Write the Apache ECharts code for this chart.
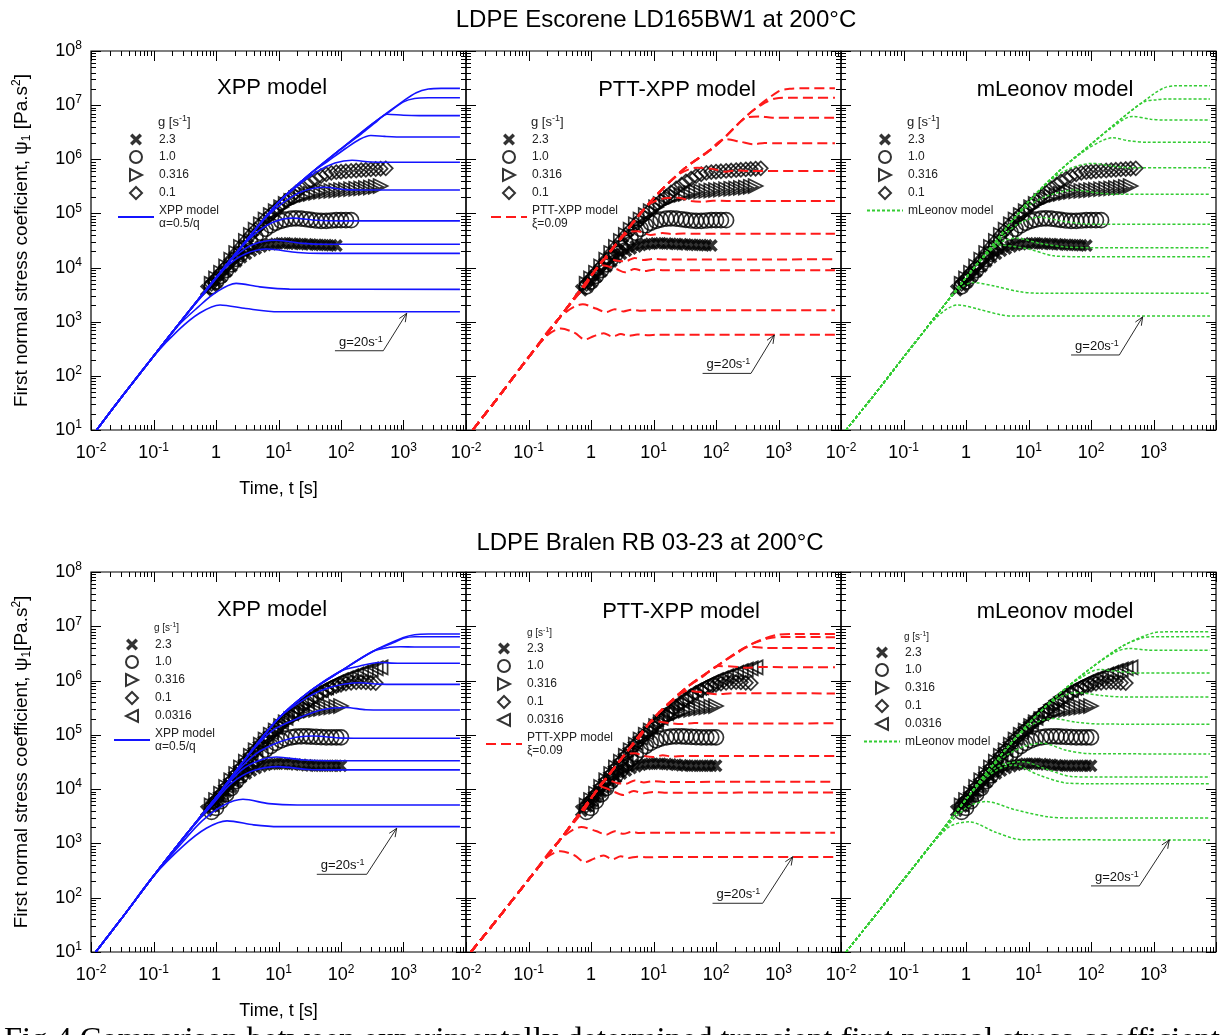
<!DOCTYPE html>
<html>
<head>
<meta charset="utf-8">
<script src="https://cdn.jsdelivr.net/npm/echarts@6/dist/echarts.min.js"></script>
<style>
html, body { margin: 0; padding: 0; background: #fff; }
#main { width: 1223px; height: 1035px; }
</style>
</head>
<body>
<div id="main"></div>
<script>
// sampling times of the measured data (s)
var TIMES = [0.7, 0.85, 1.0, 1.2, 1.45, 1.75, 2.1, 2.5, 3, 3.6, 4.3, 5.2, 6.2, 7.5, 9, 11, 13, 16, 19, 23, 28, 33, 40, 48, 58, 70, 84, 100, 120, 145, 175, 210, 250, 300, 360, 430, 520];

// measured psi1 (Pa.s2), aligned with TIMES, null = no point
// LD165BW1
var TOP_G2_3 = [3.8e3, 4.6e3, 5.5e3, 6.8e3, 8.5e3, 1.05e4, 1.3e4, 1.55e4, 1.8e4, 2.05e4, 2.25e4, 2.45e4, 2.6e4, 2.7e4, 2.75e4, 2.8e4, 2.8e4, 2.78e4, 2.75e4, 2.72e4, 2.7e4, 2.68e4, 2.65e4, 2.62e4, 2.6e4, 2.58e4, 2.55e4];
var TOP_G1_0 = [null, 4.5e3, 5.5e3, 7e3, 9e3, 1.15e4, 1.45e4, 1.8e4, 2.3e4, 2.9e4, 3.6e4, 4.4e4, 5.2e4, 6e4, 6.7e4, 7.3e4, 7.7e4, 8e4, 8.1e4, 8e4, 7.8e4, 7.6e4, 7.4e4, 7.3e4, 7.3e4, 7.4e4, 7.5e4, 7.5e4, 7.5e4, 7.5e4];
var TOP_G0_316 = [null, 5e3, 6.3e3, 8e3, 1.05e4, 1.4e4, 1.85e4, 2.4e4, 3.1e4, 4e4, 5e4, 6.3e4, 7.7e4, 9.3e4, 1.1e5, 1.3e5, 1.5e5, 1.7e5, 1.9e5, 2.05e5, 2.2e5, 2.3e5, 2.4e5, 2.5e5, 2.55e5, 2.6e5, 2.65e5, 2.7e5, 2.75e5, 2.8e5, 2.85e5, 2.9e5, 2.95e5, 3e5, 3.1e5, 3.2e5];
var TOP_G0_1 = [null, 5e3, 6.3e3, 8e3, 1.05e4, 1.4e4, 1.85e4, 2.4e4, 3.1e4, 4e4, 5e4, 6.3e4, 7.8e4, 9.6e4, 1.17e5, 1.42e5, 1.7e5, 2.05e5, 2.45e5, 2.9e5, 3.4e5, 3.9e5, 4.4e5, 4.9e5, 5.3e5, 5.6e5, 5.8e5, 5.9e5, 6e5, 6.1e5, 6.2e5, 6.3e5, 6.4e5, 6.5e5, 6.6e5, 6.7e5, 6.8e5];
// RB 03-23
var BOT_G2_3 = [4e3, 4.8e3, 5.8e3, 7.2e3, 9e3, 1.1e4, 1.35e4, 1.65e4, 1.95e4, 2.2e4, 2.45e4, 2.65e4, 2.8e4, 2.9e4, 2.95e4, 2.95e4, 2.95e4, 2.9e4, 2.85e4, 2.8e4, 2.75e4, 2.72e4, 2.7e4, 2.7e4, 2.7e4, 2.7e4, 2.7e4, 2.7e4];
var BOT_G1_0 = [null, 3.8e3, 4.5e3, 6e3, 8e3, 1.05e4, 1.4e4, 1.8e4, 2.3e4, 2.9e4, 3.6e4, 4.4e4, 5.3e4, 6.2e4, 7.1e4, 7.9e4, 8.5e4, 9e4, 9.3e4, 9.4e4, 9.4e4, 9.3e4, 9.2e4, 9.1e4, 9e4, 9e4, 9e4, 9e4];
var BOT_G0_316 = [null, 5e3, 6.3e3, 8.2e3, 1.1e4, 1.45e4, 1.9e4, 2.5e4, 3.2e4, 4.1e4, 5.2e4, 6.6e4, 8.2e4, 1e5, 1.2e5, 1.45e5, 1.7e5, 1.95e5, 2.2e5, 2.45e5, 2.65e5, 2.8e5, 2.9e5, 3e5, 3.1e5, 3.2e5, 3.3e5, 3.4e5];
var BOT_G0_1 = [null, 5e3, 6.3e3, 8.2e3, 1.1e4, 1.45e4, 1.9e4, 2.5e4, 3.2e4, 4.1e4, 5.2e4, 6.6e4, 8.3e4, 1.03e5, 1.26e5, 1.55e5, 1.9e5, 2.3e5, 2.75e5, 3.3e5, 3.9e5, 4.5e5, 5.2e5, 5.9e5, 6.6e5, 7.3e5, 7.9e5, 8.4e5, 8.8e5, 9.1e5, 9.3e5, 9.4e5, 9.3e5, 9.1e5, 9e5];
var BOT_G0_0316 = [null, 5.2e3, 6.6e3, 8.6e3, 1.15e4, 1.5e4, 2e4, 2.6e4, 3.4e4, 4.4e4, 5.6e4, 7.2e4, 9e4, 1.12e5, 1.38e5, 1.7e5, 2.05e5, 2.5e5, 3e5, 3.6e5, 4.3e5, 5e5, 5.8e5, 6.6e5, 7.5e5, 8.4e5, 9.3e5, 1.02e6, 1.1e6, 1.2e6, 1.3e6, 1.4e6, 1.5e6, 1.6e6, 1.68e6, 1.75e6];

// model start-up envelopes [t, psi1]
var ENV_XPP_TOP = [[0.0123, 10], [0.0316, 42], [0.1, 230], [0.316, 1.25e3], [1, 6.5e3], [3.16, 3.3e4], [10, 1.6e5], [31.6, 5.3e5], [100, 1.55e6], [316, 4.5e6], [1000, 1.2e7]];
var ENV_PTT_TOP = [[0.0128, 10], [0.0316, 38], [0.1, 220], [0.316, 1.2e3], [1, 7e3], [3.16, 3.8e4], [10, 1.9e5], [31.6, 6.8e5], [100, 1.8e6], [316, 6.5e6], [1000, 1.8e7]];
var ENV_ML_TOP = [[0.012, 10], [0.0316, 40], [0.1, 220], [0.316, 1.2e3], [1, 6.5e3], [3.16, 3.3e4], [10, 1.65e5], [31.6, 6.2e5], [100, 1.9e6], [316, 5.8e6], [1000, 1.6e7]];
var ENV_XPP_BOT = [[0.0119, 10], [0.0316, 43], [0.1, 250], [0.316, 1.35e3], [1, 7e3], [3.16, 4e4], [10, 2e5], [31.6, 6.3e5], [100, 1.5e6], [316, 3.4e6], [1000, 6.2e6]];
var ENV_PTT_BOT = [[0.012, 10], [0.0316, 40], [0.1, 215], [0.316, 1.15e3], [1, 6.8e3], [3.16, 3.8e4], [10, 2e5], [31.6, 7e5], [100, 1.8e6], [316, 4.3e6], [1000, 7e6]];
var ENV_ML_BOT = [[0.012, 10], [0.0316, 40], [0.1, 215], [0.316, 1.15e3], [1, 6.5e3], [3.16, 3.5e4], [10, 1.6e5], [31.6, 5.8e5], [100, 1.7e6], [316, 4.3e6], [1000, 7.6e6]];

// model curves: [time where the curve leaves the envelope, points after it]
var XPP_TOP = [
  [1000, [[1600, 1.7e7], [2500, 1.98e7], [4000, 2.04e7], [8000, 2.04e7]]],
  [316, [[600, 7.6e6], [1000, 1.15e7], [1500, 1.33e7], [2500, 1.37e7], [8000, 1.37e7]]],
  [100, [[200, 2.8e6], [350, 4.7e6], [550, 6.8e6], [1000, 6.5e6], [1800, 6.4e6], [8000, 6.4e6]]],
  [31.6, [[60, 9e5], [120, 1.6e6], [200, 2.35e6], [300, 2.75e6], [500, 2.65e6], [1000, 2.58e6], [8000, 2.58e6]]],
  [10, [[20, 3.2e5], [40, 5.8e5], [80, 8.5e5], [150, 9.6e5], [300, 8.9e5], [600, 8.8e5], [8000, 8.8e5]]],
  [3.16, [[6, 8e4], [12, 1.6e5], [25, 2.6e5], [55, 3.05e5], [120, 2.75e5], [300, 2.7e5], [8000, 2.7e5]]],
  [1, [[2, 1.7e4], [4, 4e4], [8, 6.8e4], [17, 8.2e4], [40, 7.5e4], [100, 7.3e4], [8000, 7.3e4]]],
  [1, [[2, 1.6e4], [4, 2.7e4], [9, 3.2e4], [25, 2.8e4], [60, 2.7e4], [8000, 2.7e4]]],
  [0.316, [[0.6, 3e3], [1.5, 1.05e4], [3, 1.8e4], [6.5, 2.2e4], [20, 1.9e4], [50, 1.83e4], [8000, 1.83e4]]],
  [0.1, [[0.25, 850], [0.5, 1.8e3], [1, 3.5e3], [2.1, 5.1e3], [5, 4.4e3], [15, 4e3], [8000, 3.96e3]]],
  [0.1, [[0.25, 700], [0.55, 1.45e3], [1.16, 2.04e3], [3, 1.75e3], [10, 1.53e3], [8000, 1.53e3]]]
];
var PTT_TOP = [
  [1000, [[1500, 2.0e7], [2500, 2.05e7], [8000, 2.05e7]]],
  [316, [[600, 1.1e7], [900, 1.33e7], [1500, 1.37e7], [8000, 1.37e7]]],
  [100, [[200, 3.9e6], [300, 5.8e6], [500, 6.2e6], [800, 5.85e6], [8000, 5.86e6]]],
  [31.6, [[70, 1.3e6], [140, 2.35e6], [250, 2.1e6], [400, 1.9e6], [600, 2e6], [1000, 1.97e6], [8000, 1.97e6]]],
  [10, [[25, 5.2e5], [50, 7e5], [90, 6.6e5], [140, 5.9e5], [220, 6.2e5], [350, 6.05e5], [8000, 6.08e5]]],
  [3.16, [[8, 1.4e5], [15, 1.9e5], [25, 1.95e5], [40, 1.7e5], [60, 1.65e5], [90, 1.72e5], [150, 1.7e5], [8000, 1.7e5]]],
  [1, [[2, 1.9e4], [4, 4.5e4], [5.5, 4.7e4], [9, 4e4], [14, 4.35e4], [20, 4.15e4], [30, 4.25e4], [50, 4.22e4], [8000, 4.22e4]]],
  [1, [[1.8, 1.5e4], [2.5, 1.35e4], [3.5, 1.3e4], [5, 1.5e4], [7, 1.38e4], [10, 1.44e4], [15, 1.41e4], [8000, 1.42e4]]],
  [0.316, [[0.8, 4.5e3], [1.5, 1.1e4], [2.5, 9.5e3], [3.5, 8.2e3], [5, 9.4e3], [7, 8.6e3], [10, 9.1e3], [15, 8.9e3], [8000, 8.9e3]]],
  [0.316, [[0.74, 2.1e3], [1.2, 1.75e3], [1.75, 1.5e3], [2.4, 1.7e3], [3.3, 1.55e3], [4.5, 1.67e3], [6, 1.6e3], [9, 1.63e3], [8000, 1.63e3]]],
  [0.1, [[0.2, 560], [0.33, 750], [0.55, 620], [0.8, 470], [1.1, 540], [1.6, 610], [2.2, 530], [3, 590], [4, 550], [5.5, 580], [8, 565], [12, 575], [8000, 575]]]
];
var ML_TOP = [
  [1000, [[1500, 2.1e7], [2200, 2.28e7], [4000, 2.29e7], [8000, 2.29e7]]],
  [316, [[700, 1.15e7], [1100, 1.25e7], [1600, 1.3e7], [8000, 1.3e7]]],
  [100, [[200, 3.6e6], [464, 6.2e6], [900, 5.5e6], [1500, 5.3e6], [8000, 5.3e6]]],
  [31.6, [[80, 1.45e6], [150, 2.2e6], [222, 2.5e6], [400, 2.2e6], [800, 2.06e6], [8000, 2.06e6]]],
  [10, [[25, 4.5e5], [50, 7e5], [106, 8.4e5], [200, 7.6e5], [400, 7e5], [8000, 7e5]]],
  [3.16, [[8, 1.15e5], [20, 2.1e5], [57, 2.7e5], [120, 2.4e5], [250, 2.25e5], [8000, 2.25e5]]],
  [1, [[3, 2.8e4], [7, 6.5e4], [15, 8.5e4], [35, 7.2e4], [80, 6.4e4], [200, 6.3e4], [8000, 6.3e4]]],
  [1, [[3, 2.6e4], [6.3, 3.5e4], [15, 2.8e4], [40, 2.4e4], [100, 2.33e4], [8000, 2.33e4]]],
  [1, [[2, 1.6e4], [3.5, 2.6e4], [10, 2.2e4], [25, 1.65e4], [60, 1.59e4], [8000, 1.59e4]]],
  [0.316, [[0.7, 3.6e3], [1.28, 5.3e3], [3, 4.5e3], [7, 3.6e3], [15, 3.35e3], [8000, 3.35e3]]],
  [0.1, [[0.35, 1.25e3], [0.74, 2.04e3], [1.6, 1.7e3], [3.5, 1.35e3], [6, 1.27e3], [8000, 1.27e3]]]
];
var XPP_BOT = [
  [1000, [[1500, 7e6], [2500, 7.2e6], [8000, 7.2e6]]],
  [316, [[700, 5.0e6], [1000, 6.0e6], [1500, 6.4e6], [8000, 6.4e6]]],
  [316, [[600, 4.1e6], [900, 4.2e6], [1500, 4.16e6], [8000, 4.16e6]]],
  [100, [[200, 1.85e6], [400, 2.15e6], [800, 2.08e6], [8000, 2.08e6]]],
  [10, [[30, 5e5], [70, 7.6e5], [200, 9.1e5], [400, 8.6e5], [800, 8.5e5], [8000, 8.5e5]]],
  [3.16, [[8, 1.2e5], [20, 2e5], [50, 2.9e5], [120, 3.2e5], [250, 2.9e5], [500, 2.87e5], [8000, 2.87e5]]],
  [1, [[2.5, 2.5e4], [5, 5e4], [15, 8.5e4], [36, 9.5e4], [90, 8.8e4], [200, 8.65e4], [8000, 8.65e4]]],
  [1, [[2.5, 2.2e4], [5, 3.4e4], [9.3, 3.9e4], [25, 3.45e4], [60, 3.34e4], [8000, 3.34e4]]],
  [0.316, [[0.8, 4.6e3], [1.8, 1.3e4], [4, 2.2e4], [10, 2.6e4], [30, 2.3e4], [80, 2.26e4], [8000, 2.26e4]]],
  [0.1, [[0.3, 1.1e3], [0.6, 2.6e3], [1.3, 5e3], [2.7, 6.5e3], [7, 5.4e3], [20, 5.1e3], [8000, 5.1e3]]],
  [0.1, [[0.3, 900], [0.7, 1.9e3], [1.5, 2.6e3], [4, 2.2e3], [10, 2.04e3], [8000, 2.04e3]]]
];
var PTT_BOT = [
  [1000, [[1800, 7.2e6], [8000, 7.2e6]]],
  [316, [[700, 6.0e6], [1200, 6.35e6], [8000, 6.3e6]]],
  [100, [[200, 3.0e6], [350, 4.2e6], [600, 4.0e6], [1000, 4.0e6], [8000, 4.0e6]]],
  [31.6, [[60, 1.15e6], [110, 1.85e6], [200, 1.8e6], [300, 1.72e6], [500, 1.77e6], [8000, 1.76e6]]],
  [10, [[20, 4.2e5], [35, 6.5e5], [70, 5.9e5], [110, 5.6e5], [180, 5.85e5], [8000, 5.8e5]]],
  [3.16, [[6, 9e4], [10, 1.8e5], [18, 1.65e5], [28, 1.58e5], [45, 1.66e5], [70, 1.62e5], [8000, 1.63e5]]],
  [1, [[2, 1.9e4], [3.5, 4.2e4], [5, 4.6e4], [7, 4.1e4], [10, 3.9e4], [14, 4.2e4], [20, 4e4], [30, 4.1e4], [8000, 4.08e4]]],
  [1, [[1.8, 1.5e4], [2.6, 1.3e4], [3.6, 1.25e4], [5, 1.45e4], [7, 1.33e4], [10, 1.4e4], [15, 1.36e4], [8000, 1.37e4]]],
  [0.316, [[0.8, 4.3e3], [1.5, 1.1e4], [2.3, 9e3], [3.3, 7.8e3], [4.8, 9.2e3], [7, 8.4e3], [10, 8.9e3], [15, 8.6e3], [8000, 8.7e3]]],
  [0.316, [[0.7, 2e3], [1.2, 1.7e3], [1.75, 1.45e3], [2.4, 1.68e3], [3.3, 1.5e3], [4.5, 1.63e3], [6, 1.56e3], [9, 1.58e3], [8000, 1.58e3]]],
  [0.1, [[0.2, 560], [0.33, 720], [0.55, 600], [0.8, 450], [1.1, 520], [1.6, 600], [2.2, 510], [3, 580], [4, 540], [5.5, 570], [8, 555], [12, 562], [8000, 562]]]
];
var ML_BOT = [
  [1000, [[1500, 7.9e6], [2000, 7.94e6], [8000, 7.94e6]]],
  [316, [[700, 6.2e6], [1000, 6.4e6], [1500, 6.43e6], [8000, 6.43e6]]],
  [100, [[250, 3.4e6], [410, 3.9e6], [800, 3.65e6], [1500, 3.61e6], [8000, 3.61e6]]],
  [31.6, [[70, 1.15e6], [136, 1.6e6], [300, 1.45e6], [600, 1.38e6], [8000, 1.38e6]]],
  [10, [[25, 4.2e5], [57, 6e5], [150, 5.3e5], [300, 5e5], [8000, 5e5]]],
  [3.16, [[10, 1.4e5], [24, 2e5], [60, 1.7e5], [150, 1.58e5], [8000, 1.57e5]]],
  [1, [[3, 3e4], [8, 6e4], [17, 7e4], [40, 5.2e4], [100, 4.5e4], [8000, 4.45e4]]],
  [1, [[3, 2.5e4], [8, 3.2e4], [20, 2.3e4], [50, 1.7e4], [120, 1.67e4], [8000, 1.67e4]]],
  [1, [[2.5, 1.9e4], [5.6, 2.8e4], [15, 1.8e4], [40, 1.3e4], [100, 1.26e4], [8000, 1.26e4]]],
  [0.316, [[1, 4.5e3], [2.1, 5.9e3], [6, 4.2e3], [20, 3.1e3], [45, 2.95e3], [8000, 2.95e3]]],
  [0.1, [[0.5, 1.9e3], [1.13, 2.5e3], [3, 1.6e3], [8, 1.17e3], [8000, 1.16e3]]]
];

// "g=20s-1" arrows: underline start, elbow, arrow tip [t, psi1] per panel
var ARROW_START = [[80, 291], [61, 111], [48, 243], [41, 270], [88, 79], [100, 165]];
var ARROW_ELBOW = [[475, 291], [363, 111], [284, 243], [258, 270], [558, 79], [593, 165]];
var ARROW_TIP = [[1125, 1430], [857, 568], [671, 1230], [778, 1900], [1690, 570], [1790, 1160]];

var FONT = 'Liberation Sans, Arial, sans-serif';
var CROSS = 'path://M0,2L2,0L5,3L8,0L10,2L7,5L10,8L8,10L5,7L2,10L0,8L3,5Z';
var TRI_R = 'path://M0,0L10,5L0,10Z';
var TRI_L = 'path://M10,0L0,5L10,10Z';
var DIAMOND = 'path://M5,0L10,5L5,10L0,5Z';
var HOLLOW = {color: 'rgba(255,255,255,0)', borderColor: '#000', borderWidth: 1.7};
var SYMBOLS = {
  '2.3': {symbol: CROSS, size: 13, style: {color: '#000'}},
  '1.0': {symbol: 'circle', size: 15, style: HOLLOW},
  '0.316': {symbol: TRI_R, size: 14, style: HOLLOW},
  '0.1': {symbol: DIAMOND, size: 14, style: HOLLOW},
  '0.0316': {symbol: TRI_L, size: 14, style: HOLLOW}
};
var TOP_DATA = [['2.3', TOP_G2_3], ['1.0', TOP_G1_0], ['0.316', TOP_G0_316], ['0.1', TOP_G0_1]];
var BOT_DATA = [['2.3', BOT_G2_3], ['1.0', BOT_G1_0], ['0.316', BOT_G0_316], ['0.1', BOT_G0_1], ['0.0316', BOT_G0_0316]];

var XPP = {name: 'XPP model\nα=0.5/q', line: {color: '#1414ff', width: 1.6, type: 'solid'}};
var PTT = {name: 'PTT-XPP model\nξ=0.09', line: {color: '#ff1a1a', width: 2, type: [10, 5]}};
var ML = {name: 'mLeonov model', line: {color: '#33cc33', width: 1.5, type: [3, 2]}};

var PANELS = [
  {model: XPP, env: ENV_XPP_TOP, curves: XPP_TOP, data: TOP_DATA},
  {model: PTT, env: ENV_PTT_TOP, curves: PTT_TOP, data: TOP_DATA},
  {model: ML, env: ENV_ML_TOP, curves: ML_TOP, data: TOP_DATA},
  {model: XPP, env: ENV_XPP_BOT, curves: XPP_BOT, data: BOT_DATA},
  {model: PTT, env: ENV_PTT_BOT, curves: PTT_BOT, data: BOT_DATA},
  {model: ML, env: ENV_ML_BOT, curves: ML_BOT, data: BOT_DATA}
];

var GRID_LEFT = [91, 466, 841];
var GRID_TOP = [51, 572];
var GRID_H = [379, 380];
var LEGEND_POS = [[117, 133], [490, 133], [866, 133], [113, 638], [485, 642], [863, 646]];

function pairs(vals) {
  var out = [];
  for (var i = 0; i < vals.length; i++) {
    if (vals[i] != null) out.push([TIMES[i], vals[i]]);
  }
  return out;
}
function curve(env, c) {
  return env.filter(function (p) { return p[0] <= c[0]; }).concat(c[1]);
}

// tick marks (major + log minor) drawn on all four sides
var tickData = [];
for (var e = -2; e <= 4; e++) {
  tickData.push([Math.pow(10, e), 10, 0, 10]);
  if (e < 4) for (var k = 2; k <= 9; k++) tickData.push([k * Math.pow(10, e), 10, 0, 5]);
}
for (var e2 = 1; e2 <= 8; e2++) {
  tickData.push([0.01, Math.pow(10, e2), 1, 10]);
  if (e2 < 8) for (var k2 = 2; k2 <= 9; k2++) tickData.push([0.01, k2 * Math.pow(10, e2), 1, 5]);
}
function renderTick(params, api) {
  var cs = params.coordSys;
  var p = api.coord([api.value(0), api.value(1)]);
  var len = api.value(3);
  if (api.value(2) === 0) {
    var x = Math.round(p[0]) + 0.5;
    return {type: 'group', children: [
      {type: 'line', shape: {x1: x, y1: cs.y + cs.height, x2: x, y2: cs.y + cs.height - len}, style: {stroke: '#000', lineWidth: 1}},
      {type: 'line', shape: {x1: x, y1: cs.y, x2: x, y2: cs.y + len}, style: {stroke: '#000', lineWidth: 1}}
    ]};
  }
  var y = Math.round(p[1]) + 0.5;
  return {type: 'group', children: [
    {type: 'line', shape: {x1: cs.x, y1: y, x2: cs.x + len, y2: y}, style: {stroke: '#000', lineWidth: 1}},
    {type: 'line', shape: {x1: cs.x + cs.width, y1: y, x2: cs.x + cs.width - len, y2: y}, style: {stroke: '#000', lineWidth: 1}}
  ]};
}

var SUP_RICH = {
  a: {fontSize: 18, lineHeight: 22, fontFamily: FONT, color: '#000'},
  s: {fontSize: 12, lineHeight: 12, verticalAlign: 'top', fontFamily: FONT, color: '#000'}
};
function expLabel(v) {
  var e = Math.round(Math.log(v) / Math.LN10);
  if (e === 0) return '{a|1}';
  return '{a|10}{s|' + e + '}';
}

var grids = [], xAxes = [], yAxes = [], series = [], legends = [];
PANELS.forEach(function (pn, i) {
  var row = Math.floor(i / 3), col = i % 3;
  grids.push({left: GRID_LEFT[col], top: GRID_TOP[row], width: 375, height: GRID_H[row],
    show: true, borderColor: '#000', borderWidth: 1.2, backgroundColor: 'transparent'});
  xAxes.push({
    gridIndex: i, type: 'log', logBase: 10, min: 0.01, max: 10000, interval: 1,
    axisLine: {show: false}, axisTick: {show: false}, splitLine: {show: false},
    axisLabel: {margin: 12, rich: SUP_RICH, formatter: function (v) {
      var e = Math.round(Math.log(v) / Math.LN10);
      return e >= 4 ? '' : expLabel(v);
    }},
    name: col === 0 ? 'Time, t [s]' : '', nameLocation: 'middle', nameGap: 50,
    nameTextStyle: {fontSize: 18, fontFamily: FONT, color: '#000'}
  });
  var yName = row === 0
    ? '{n|First normal stress coeficient, ψ}{b|1}{n| [Pa.s}{p|2}{n|]}'
    : '{n|First normal stress coefficient, ψ}{b|1}{n|[Pa.s}{p|2}{n|]}';
  yAxes.push({
    gridIndex: i, type: 'log', logBase: 10, min: 10, max: 1e8, interval: 1,
    axisLine: {show: false}, axisTick: {show: false}, splitLine: {show: false},
    axisLabel: {show: col === 0, margin: 9, rich: SUP_RICH, formatter: expLabel},
    name: col === 0 ? yName : '', nameLocation: 'middle', nameGap: 58, nameRotate: 90,
    nameTextStyle: {rich: {
      n: {fontSize: 19, lineHeight: 22, fontFamily: FONT, color: '#000'},
      b: {fontSize: 12, lineHeight: 12, verticalAlign: 'bottom', fontFamily: FONT, color: '#000'},
      p: {fontSize: 12, lineHeight: 12, verticalAlign: 'top', fontFamily: FONT, color: '#000'}
    }}
  });

  pn.data.forEach(function (d) {
    var sy = SYMBOLS[d[0]];
    series.push({type: 'scatter', name: d[0], xAxisIndex: i, yAxisIndex: i, data: pairs(d[1]),
      symbol: sy.symbol, symbolSize: sy.size, itemStyle: sy.style, z: 2, silent: true});
  });
  pn.curves.forEach(function (c) {
    series.push({type: 'line', name: pn.model.name, xAxisIndex: i, yAxisIndex: i, data: curve(pn.env, c),
      symbol: 'none', smooth: 0.3, lineStyle: pn.model.line, itemStyle: {color: pn.model.line.color},
      z: 3, silent: true});
  });
  series.push({type: 'custom', xAxisIndex: i, yAxisIndex: i, data: tickData, renderItem: renderTick,
    encode: {x: 0, y: 1}, clip: false, z: 4, silent: true});

  legends.push({
    orient: 'vertical', left: LEGEND_POS[i][0], top: LEGEND_POS[i][1], padding: 0,
    itemWidth: 36, itemHeight: 12, itemGap: 4, selectedMode: false,
    textStyle: {fontSize: 12, lineHeight: 13, fontFamily: FONT, color: '#222'},
    data: pn.data.map(function (d) { return d[0]; })
      .concat([{name: pn.model.name, itemStyle: {opacity: 0}}])
  });
});

var chart = echarts.init(document.getElementById('main'));
chart.setOption({
  animation: false,
  backgroundColor: '#fff',
  grid: grids, xAxis: xAxes, yAxis: yAxes, legend: legends, series: series
});

// texts and arrows
function txt(x, y, text, size, align, rich, family) {
  return {type: 'text', x: x, y: y, z: 20, silent: true, style: {
    text: text, fontSize: size, fontFamily: family || FONT, fill: '#000',
    align: align || 'center', verticalAlign: 'middle', rich: rich}};
}
function headerRich(size) {
  return {
    n: {fontSize: size, lineHeight: size + 3, fontFamily: FONT, fill: '#222'},
    s: {fontSize: Math.round(size * 0.7), lineHeight: Math.round(size * 0.7), verticalAlign: 'top', fontFamily: FONT, fill: '#222'}
  };
}
var graphics = [
  txt(656, 20, 'LDPE Escorene LD165BW1 at 200°C', 24),
  txt(650, 543, 'LDPE Bralen RB 03-23 at 200°C', 24),
  txt(272, 88, 'XPP model', 22), txt(677, 90, 'PTT-XPP model', 22), txt(1055, 90, 'mLeonov model', 22),
  txt(272, 610, 'XPP model', 22), txt(681, 612, 'PTT-XPP model', 22), txt(1055, 612, 'mLeonov model', 22),
  txt(158, 122, '{n|g [s}{s|-1}{n|]}', 13, 'left', headerRich(13)),
  txt(531, 122, '{n|g [s}{s|-1}{n|]}', 13, 'left', headerRich(13)),
  txt(907, 122, '{n|g [s}{s|-1}{n|]}', 13, 'left', headerRich(13)),
  txt(154, 628, '{n|g [s}{s|-1}{n|]}', 10, 'left', headerRich(10)),
  txt(527, 633, '{n|g [s}{s|-1}{n|]}', 10, 'left', headerRich(10)),
  txt(904, 637, '{n|g [s}{s|-1}{n|]}', 10, 'left', headerRich(10)),
  txt(4, 1040, 'Fig.4 Comparison between experimentally determined transient first normal stress coefficient', 32.5, 'left', null, 'Liberation Serif, Times New Roman, serif')
];
for (var i = 0; i < 6; i++) {
  var s = chart.convertToPixel({gridIndex: i}, ARROW_START[i]);
  var el = chart.convertToPixel({gridIndex: i}, ARROW_ELBOW[i]);
  var tp = chart.convertToPixel({gridIndex: i}, ARROW_TIP[i]);
  graphics.push({type: 'polyline', z: 20, silent: true, shape: {points: [s, el, tp]},
    style: {stroke: '#111', lineWidth: 0.9, fill: null}});
  var dx = tp[0] - el[0], dy = tp[1] - el[1], L = Math.sqrt(dx * dx + dy * dy);
  dx /= L; dy /= L;
  var a = 0.4, h = 9;
  var p1 = [tp[0] - h * (dx * Math.cos(a) - dy * Math.sin(a)), tp[1] - h * (dy * Math.cos(a) + dx * Math.sin(a))];
  var p2 = [tp[0] - h * (dx * Math.cos(a) + dy * Math.sin(a)), tp[1] - h * (dy * Math.cos(a) - dx * Math.sin(a))];
  graphics.push({type: 'polyline', z: 20, silent: true, shape: {points: [p1, tp, p2]},
    style: {stroke: '#111', lineWidth: 0.9, fill: null}});
  graphics.push({type: 'text', x: s[0] + 4, y: s[1] - 1, z: 20, silent: true, style: {
    text: '{n|g=20s}{s|-1}', align: 'left', verticalAlign: 'bottom',
    rich: {
      n: {fontSize: 13, lineHeight: 15, fontFamily: FONT, fill: '#111'},
      s: {fontSize: 9, lineHeight: 9, verticalAlign: 'top', fontFamily: FONT, fill: '#111'}
    }}});
}
chart.setOption({graphic: graphics});
</script>
</body>
</html>
